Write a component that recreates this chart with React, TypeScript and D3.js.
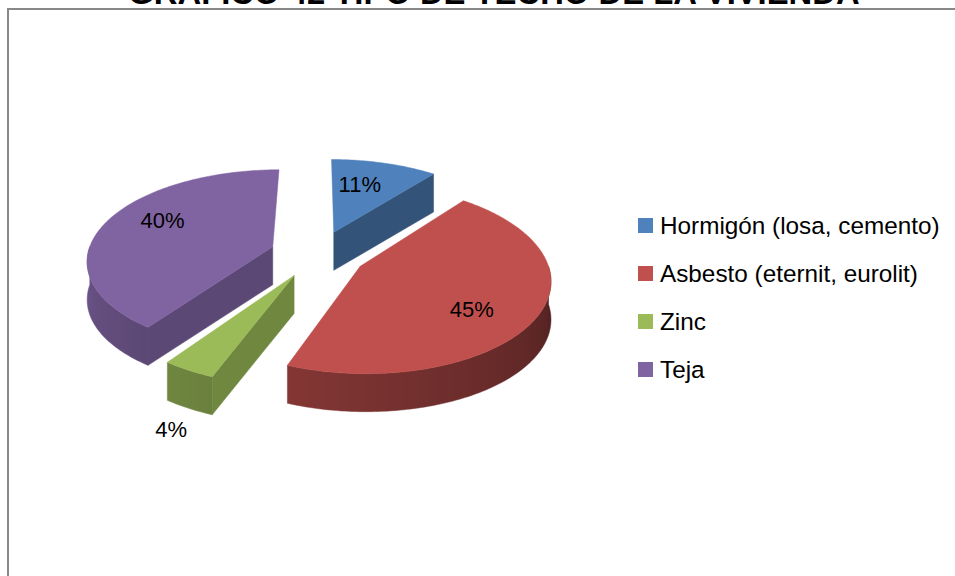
import { useMemo } from "react";
import * as d3 from "d3";

const categories = ["Hormigón (losa, cemento)", "Asbesto (eternit, eurolit)", "Zinc", "Teja"];
const values = [11, 45, 4, 40];
const labels = ["11%", "45%", "4%", "40%"];
const colors = ["#4F81BD", "#C0504D", "#9BBB59", "#8064A2"];
const title = "GRÁFICO 42 TIPO DE TECHO DE LA VIVIENDA";

// projection of the tilted pie (light perspective, front bigger than back)
const cx = 318;
const cy = 254;
const rx = 185;
const ry = 91.5;
const persp = 0.137;
const explode = 0.26;
const depth = 38;
const font = "'Liberation Sans', Arial, sans-serif";
// small label shifts so they sit where excel put them
const labelNudge: [number, number][] = [[-9, 0], [-2, 10], [6, 0], [0, -9]];

function project(x: number, z: number, h: number): [number, number] {
  const s = 1 - persp * z;
  return [cx + rx * x * s, cy - ry * z * s + h * depth];
}

function shade(c: string, k: number) {
  const col = d3.rgb(c);
  return d3.rgb(col.r * k, col.g * k, col.b * k).formatHex();
}

const poly = (pts: [number, number][]) =>
  "M" + pts.map((p) => p[0].toFixed(2) + "," + p[1].toFixed(2)).join("L") + "Z";

function arcPts(ox: number, oz: number, a0: number, a1: number, h: number) {
  const n = Math.max(2, Math.ceil((a1 - a0) / (Math.PI / 180)));
  const pts: [number, number][] = [];
  for (let i = 0; i <= n; i++) {
    const a = a0 + ((a1 - a0) * i) / n;
    pts.push(project(ox + Math.sin(a), oz + Math.cos(a), h));
  }
  return pts;
}

export default function App() {
  const slices = useMemo(() => {
    const arcs = d3.pie<number>().sort(null).value((d) => d)(values);
    return arcs
      .map((a, i) => {
        const mid = (a.startAngle + a.endAngle) / 2;
        const ox = explode * Math.sin(mid);
        const oz = explode * Math.cos(mid);
        const a0 = a.startAngle;
        const a1 = a.endAngle;
        const c = colors[i];
        const center = project(ox, oz, 0);
        const top = poly([center, ...arcPts(ox, oz, a0, a1, 0)]);

        const walls: { d: string; fill: string }[] = [];
        const wall = (ang: number) => {
          const o = [ox + Math.sin(ang), oz + Math.cos(ang)];
          return poly([
            center,
            project(o[0], o[1], 0),
            project(o[0], o[1], 1),
            project(ox, oz, 1),
          ]);
        };
        if (Math.sin(a0) < -0.01) walls.push({ d: wall(a0), fill: shade(c, 0.72) });
        if (Math.sin(a1) > 0.01) walls.push({ d: wall(a1), fill: shade(c, 0.64) });

        // outer side, visible toward the front, shaded by a gradient
        let side: null | { d: string; x1: number; x2: number; stops: { o: number; c: string }[] } = null;
        const s0 = Math.max(a0, Math.PI / 2);
        const s1 = Math.min(a1, (3 * Math.PI) / 2);
        if (s1 > s0) {
          const topArc = arcPts(ox, oz, s0, s1, 0);
          const botArc = arcPts(ox, oz, s0, s1, 1).reverse();
          const xs = topArc.map((p) => p[0]);
          const xmin = d3.min(xs)!;
          const xmax = d3.max(xs)!;
          const n = topArc.length - 1;
          const stops = topArc.map((p, k) => {
            const t = s0 + ((s1 - s0) * k) / n;
            const f = 0.41 + ((t - Math.PI / 2) / Math.PI) * 0.44;
            return { o: xmax > xmin ? (p[0] - xmin) / (xmax - xmin) : 0, c: shade(c, f) };
          });
          stops.sort((u, v) => u.o - v.o);
          side = { d: poly([...topArc, ...botArc]), x1: xmin, x2: xmax, stops };
        }

        const outside = values[i] < 5;
        const rho = outside ? 1.2 : 0.66;
        const lp = project(ox + rho * Math.sin(mid), oz + rho * Math.cos(mid), outside ? 1 : 0);
        return { i, mid, top, walls, side, c, lp };
      })
      .sort((p, q) => Math.cos(q.mid) - Math.cos(p.mid));
  }, []);

  return (
    <svg
      width={955}
      height={576}
      style={{ position: "absolute", left: 0, top: 0, background: "#fff" }}
    >
      <defs>
        {slices.map((s) =>
          s.side ? (
            <linearGradient
              key={s.i}
              id={"side" + s.i}
              gradientUnits="userSpaceOnUse"
              x1={s.side.x1}
              x2={s.side.x2}
              y1={0}
              y2={0}
            >
              {s.side.stops.map((st, k) => (
                <stop key={k} offset={st.o} stopColor={st.c} />
              ))}
            </linearGradient>
          ) : null
        )}
      </defs>
      <rect x={8} y={9} width={1200} height={900} fill="#fff" stroke="#888" strokeWidth={2} />
      <text
        x={494}
        y={4}
        textAnchor="middle"
        fontFamily={font}
        fontWeight="bold"
        fontSize={32.8}
        fill="#000"
      >
        {title}
      </text>

      {slices.map((s) => (
        <g key={s.i}>
          {s.walls.map((f, k) => (
            <path key={k} d={f.d} fill={f.fill} stroke={f.fill} strokeWidth={0.5} />
          ))}
          {s.side && (
            <path d={s.side.d} fill={`url(#side${s.i})`} stroke={`url(#side${s.i})`} strokeWidth={0.5} />
          )}
          <path d={s.top} fill={s.c} stroke={s.c} strokeWidth={0.5} />
        </g>
      ))}

      {slices.map((s) => (
        <text
          key={"l" + s.i}
          x={s.lp[0] + labelNudge[s.i][0]}
          y={s.lp[1] + labelNudge[s.i][1]}
          dy="0.35em"
          textAnchor="middle"
          fontFamily={font}
          fontSize={22}
          fill="#000"
        >
          {labels[s.i]}
        </text>
      ))}

      {categories.map((name, i) => (
        <g key={name} transform={`translate(638,${218 + i * 48})`}>
          <rect width={15} height={15} fill={colors[i]} />
          <text x={22} y={16} fontFamily={font} fontSize={24.3} fill="#000">
            {name}
          </text>
        </g>
      ))}
    </svg>
  );
}
